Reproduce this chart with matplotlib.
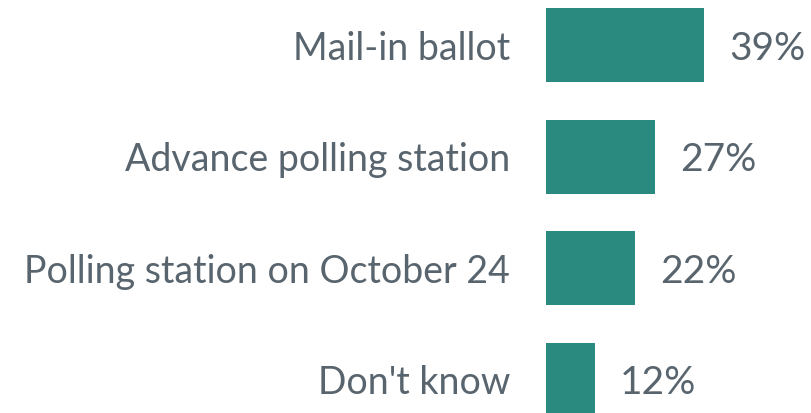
import matplotlib.pyplot as plt

# data
categorias = ["Mail-in ballot", "Advance polling station",
              "Polling station on October 24", "Don't know"]
valores = [39, 27, 22, 12]
etiquetas = ["39%", "27%", "22%", "12%"]

color_barra = "#2b8a80"
color_texto = "#59656e"

fig = plt.figure(figsize=(8.12, 4.14), dpi=100)
ax = fig.add_axes([546 / 812, 0, 266 / 812, 1])

# posiciones en pixeles desde arriba
ys = [46 + 111.5 * i for i in range(len(valores))]
ax.barh(ys, valores, height=74, color=color_barra)
ax.set_xlim(0, 266 / 4.05)
ax.set_ylim(414, 0)
ax.axis("off")

for y, cat, v, et in zip(ys, categorias, valores, etiquetas):
    ax.text(-36 / 4.05, y + 3, cat, ha="right", va="center", fontsize=27,
            family="Lato", color=color_texto, clip_on=False)
    ax.text(v + 25 / 4.05, y + 3, et, ha="left", va="center", fontsize=28,
            family="Lato", color=color_texto, clip_on=False)

fig.savefig("out.png", dpi=100)
